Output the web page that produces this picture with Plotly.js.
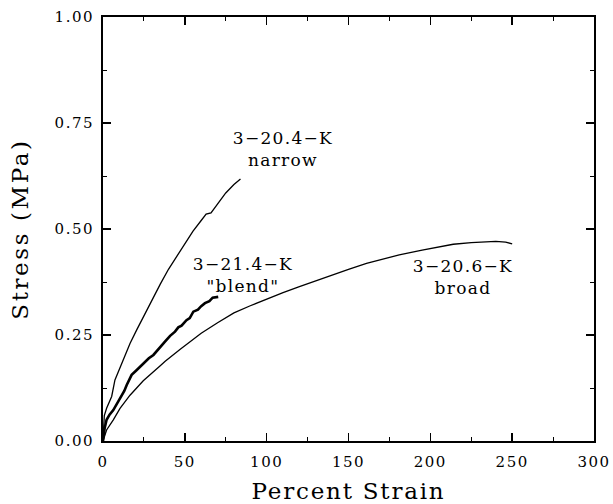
<!DOCTYPE html>
<html>
<head>
<meta charset="utf-8">
<script src="https://cdn.plot.ly/plotly-3.0.1.min.js"></script>
<style>
html,body{margin:0;padding:0;background:#fff;}
#chart{width:613px;height:504px;}
#chart .xtick text, #chart .ytick text { letter-spacing: 1.5px; }
#chart .xtitle { letter-spacing: 1.8px; }
#chart .ytitle { letter-spacing: 2.6px; }
#chart .annotation-text { letter-spacing: 1.3px; }
</style>
</head>
<body>
<div id="chart"></div>
<script>
// 3-20.4-K narrow
const narrowStrain = [0,0.8,2.2,3.5,5.3,7.3,10,12.4,14.5,16.5,20.6,24.6,30,35,40,45,50,55,60,63,66,70,75,80,84];
const narrowStress = [0,0.06,0.077,0.09,0.105,0.144,0.17,0.191,0.21,0.23,0.262,0.293,0.333,0.37,0.405,0.435,0.465,0.495,0.52,0.535,0.538,0.56,0.585,0.605,0.618];
// 3-21.4-K "blend"
const blendStrain = [0,1,2.2,4,6.3,9,11.4,13,14.5,17.5,20,24.6,28,30.8,34.8,38,41,44,46,48,51,53,55.2,58,60,62.3,65,67,70.4];
const blendStress = [0,0.03,0.05,0.062,0.073,0.09,0.105,0.118,0.132,0.156,0.165,0.183,0.195,0.203,0.222,0.235,0.248,0.258,0.268,0.272,0.285,0.29,0.305,0.31,0.318,0.325,0.33,0.338,0.34];
// 3-20.6-K broad
const broadStrain = [0,2.2,6.3,10.4,16.5,24.6,34.8,38,47,60,70,80,90,100,110,120,130,140,150,161,170,181,195,205,214,225,240,246,250];
const broadStress = [0,0.026,0.05,0.077,0.108,0.142,0.177,0.188,0.216,0.254,0.279,0.302,0.319,0.335,0.35,0.364,0.378,0.392,0.405,0.419,0.428,0.439,0.45,0.458,0.464,0.468,0.471,0.469,0.465];

// curve labels
const labelText = ['3\u221220.4\u2212K<br>narrow', '3\u221221.4\u2212K<br>"blend"', '3\u221220.6\u2212K<br>broad'];
const labelX = [110, 85.6, 220];
const labelY = [0.688, 0.392, 0.386];

const FONT = 'DejaVu Serif, Liberation Serif, serif';

const traces = [
  {x: narrowStrain, y: narrowStress, mode: 'lines', line: {color: '#000', width: 1.3}, name: 'narrow'},
  {x: blendStrain, y: blendStress, mode: 'lines', line: {color: '#000', width: 2.6}, name: 'blend'},
  {x: broadStrain, y: broadStress, mode: 'lines', line: {color: '#000', width: 1.3}, name: 'broad'}
];

const annotations = labelText.map((t, i) => ({
  text: t, x: labelX[i], y: labelY[i], xref: 'x', yref: 'y', showarrow: false, align: 'center',
  font: {family: FONT, size: 17, color: '#000'}
}));

const layout = {
  width: 613, height: 504,
  margin: {l: 103, r: 19, t: 17, b: 63},
  paper_bgcolor: '#fff', plot_bgcolor: '#fff',
  showlegend: false,
  font: {family: FONT, color: '#000', size: 16},
  xaxis: {
    range: [0, 300], tickvals: [0,50,100,150,200,250,300],
    ticks: 'inside', ticklen: 8, tickwidth: 1.5, tickcolor: '#000',
    minor: {dtick: 25, tick0: 0, ticks: 'inside', ticklen: 4, tickwidth: 1, tickcolor: '#000'},
    showline: true, linewidth: 2, linecolor: '#000', mirror: 'ticks',
    showgrid: false, zeroline: false,
    ticklabelstandoff: 6,
    tickfont: {family: FONT, size: 15},
    title: {text: 'Percent Strain', font: {family: FONT, size: 23}, standoff: 17}
  },
  yaxis: {
    range: [0, 1], tickvals: [0,0.25,0.5,0.75,1], tickformat: '.2f',
    ticks: 'inside', ticklen: 8, tickwidth: 1.5, tickcolor: '#000',
    minor: {dtick: 0.125, tick0: 0, ticks: 'inside', ticklen: 4, tickwidth: 1, tickcolor: '#000'},
    showline: true, linewidth: 2, linecolor: '#000', mirror: 'ticks',
    showgrid: false, zeroline: false,
    ticklabelstandoff: 4,
    tickfont: {family: FONT, size: 15},
    title: {text: 'Stress (MPa)', font: {family: FONT, size: 23}, standoff: 26}
  },
  annotations: annotations
};

Plotly.newPlot('chart', traces, layout, {staticPlot: true, displayModeBar: false});
</script>
</body>
</html>
